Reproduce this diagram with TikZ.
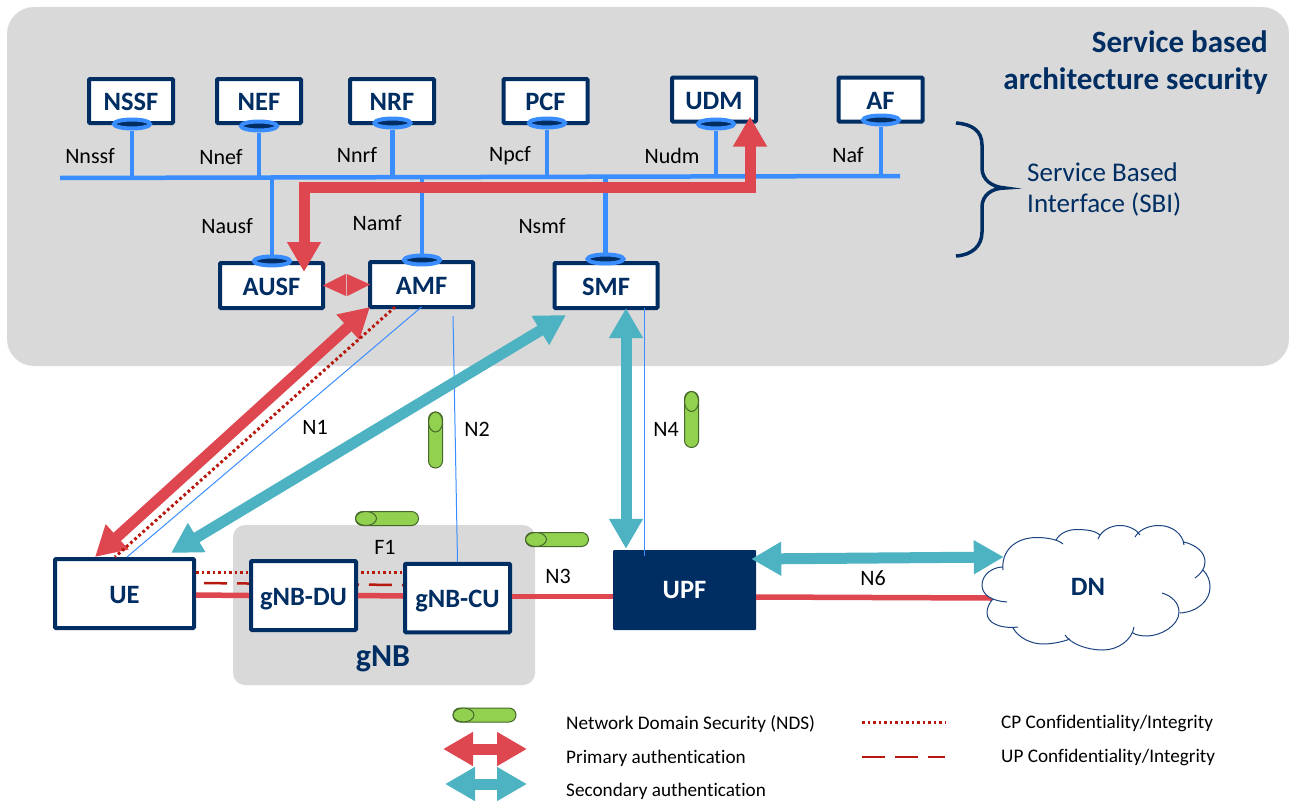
\documentclass[tikz,border=0pt]{standalone}
\usepackage{fontspec}
\setmainfont[Ligatures=NoCommon]{Carlito}
\usetikzlibrary{arrows.meta,shapes.geometric}
\definecolor{navyc}{HTML}{002D62}
\definecolor{grayc}{HTML}{D9D9D9}
\definecolor{bluec}{HTML}{3A8DFF}
\definecolor{redc}{HTML}{DE4650}
\definecolor{tealc}{HTML}{4DB3C2}
\definecolor{darkredc}{HTML}{B7190F}
\definecolor{greenc}{HTML}{92D050}
\definecolor{tubec}{HTML}{46682A}
\definecolor{cloudc}{HTML}{1B4480}
\begin{document}
\begin{tikzpicture}[x=1pt,y=-1pt,
  panel node/.style={rectangle,fill=grayc,inner sep=0pt},
  main node/.style={rectangle,draw=navyc,fill=white,line width=4pt,rounded corners=1pt,text=navyc,
    font=\bfseries\fontsize{26.5}{30}\selectfont,text height=19pt,text depth=0pt,inner sep=0pt},
  top node/.style={main node,minimum width=84pt,minimum height=44pt},
  core node/.style={main node,minimum width=103pt,minimum height=45pt},
  port node/.style={ellipse,draw=bluec,fill=navyc,line width=4pt,minimum width=36pt,minimum height=9pt,inner sep=0pt},
  label node/.style={inner sep=0pt,font=\fontsize{22}{26}\selectfont},
  legend node/.style={inner sep=0pt,anchor=west,yshift=-1pt,font=\fontsize{19.2}{23}\selectfont},
  tube node/.style={rectangle,draw=tubec,fill=greenc,line width=1pt,rounded corners=7pt,inner sep=0pt},
  tube v/.style={tube node,minimum width=14pt,minimum height=56pt},
  tube h/.style={tube node,minimum width=63pt,minimum height=14pt},
  cap v/.style={ellipse,draw=tubec,fill=greenc,line width=1pt,inner sep=0pt,minimum width=14pt,minimum height=20pt,anchor=north},
  cap h/.style={ellipse,draw=tubec,fill=greenc,line width=1pt,inner sep=0pt,minimum width=21pt,minimum height=14pt,anchor=west},
  sbi line/.style={draw=bluec,line width=4.5pt},
  thin line/.style={draw=bluec,line width=1pt},
  red line/.style={draw=redc,line width=5.5pt},
  cp line/.style={draw=darkredc,line width=3pt,dash pattern=on 2.8pt off 2.7pt},
  up line/.style={draw=darkredc,line width=2.5pt,dash pattern=on 23pt off 10pt,dash phase=25pt},
  red arrow/.style={draw=redc,line width=11pt,{Triangle[width=32pt,length=30pt]}-{Triangle[width=32pt,length=30pt]}},
  teal arrow/.style={draw=tealc,line width=11pt,{Triangle[width=32pt,length=30pt]}-{Triangle[width=32pt,length=30pt]}}]

  \useasboundingbox (0,0) rectangle (1289,800);

  \node[panel node,rounded corners=27pt,minimum width=1282pt,minimum height=359pt] (sba) at (648,186.5) {};
  \node[panel node,rounded corners=12pt,minimum width=302pt,minimum height=160pt] (gnb) at (384,605) {};

  \node[anchor=east,align=right,inner sep=0pt,text=navyc,font=\bfseries\fontsize{31}{37}\selectfont] (title) at (1268,63)
    {Service based\\architecture security};
  \node[anchor=west,align=left,inner sep=0pt,text=navyc,font=\fontsize{27}{31}\selectfont] (sbi) at (1027,189)
    {Service Based\\Interface (SBI)};

  \node[top node] (nssf) at (131,101) {NSSF};
  \node[top node] (nef) at (259,101) {NEF};
  \node[top node] (nrf) at (392,101) {NRF};
  \node[top node] (pcf) at (545.5,101) {PCF};
  \node[top node] (udm) at (714,99.5) {UDM};
  \node[top node] (af) at (880.5,99.5) {AF};
  \node[core node] (ausf) at (271.5,285.5) {AUSF};
  \node[core node] (amf) at (421.5,284.5) {AMF};
  \node[core node] (smf) at (606,285.5) {SMF};

  \node[port node] (nssf port) at (132,124) {};
  \node[port node] (nef port) at (259,126) {};
  \node[port node] (nrf port) at (392.5,123) {};
  \node[port node] (pcf port) at (547,123) {};
  \node[port node] (udm port) at (716,124) {};
  \node[port node] (af port) at (881,120) {};
  \node[port node] (ausf port) at (272,261) {};
  \node[port node] (amf port) at (422,260) {};
  \node[port node] (smf port) at (605.5,259) {};

  \coordinate (bus left) at (60,178);
  \coordinate (bus right) at (900,176);
  \coordinate (bus) at (0,177);
  \coordinate (auth) at (0,187);

  \path[every edge/.append style={sbi line}]
   (bus left) edge (bus right)
   (nssf port.south) edge (nssf port.south |- bus)
   (nef port.south) edge (nef port.south |- bus)
   (nrf port.south) edge (nrf port.south |- bus)
   (pcf port.south) edge (pcf port.south |- bus)
   (udm port.south) edge (udm port.south |- bus)
   (af port.south) edge (af port.south |- bus)
   (ausf port.north) edge (ausf port.north |- bus)
   (amf port.north) edge (amf port.north |- bus)
   (smf port.north) edge (smf port.north |- bus);

  \node[label node] (l nssf) at (90,156) {Nnssf};
  \node[label node] (l nef) at (221,157) {Nnef};
  \node[label node] (l nrf) at (357,155) {Nnrf};
  \node[label node] (l pcf) at (510,156) {Npcf};
  \node[label node] (l udm) at (672,156) {Nudm};
  \node[label node] (l af) at (848,155) {Naf};
  \node[label node] (l ausf) at (227,226) {Nausf};
  \node[label node] (l amf) at (377,223) {Namf};
  \node[label node] (l smf) at (542,226) {Nsmf};
  \node[label node] (n1) at (315,427) {N1};
  \node[label node] (n2) at (477,429) {N2};
  \node[label node] (n3) at (558,576) {N3};
  \node[label node] (n4) at (666,429) {N4};
  \node[label node] (n6) at (873,578) {N6};
  \node[label node] (f1) at (385,547) {F1};

  \node[main node,minimum width=139pt,minimum height=69pt] (ue) at (124.5,593.5) {UE};
  \node[main node,minimum width=105pt,minimum height=68.5pt] (cu) at (457.5,598) {gNB-CU};

  \path
   ([yshift=21.5pt]ue.east) edge[cp line] ([yshift=26pt]cu.west)
   ([yshift=10.5pt]ue.east) edge[up line] ([yshift=13pt]cu.west);

  \node[main node,minimum width=105pt,minimum height=69pt] (du) at (303.5,595.5) {gNB-DU};
  \node[rectangle,fill=navyc,rounded corners=1pt,text=white,inner sep=0pt,minimum width=143pt,minimum height=80pt,
    font=\bfseries\fontsize{26.5}{30}\selectfont,text height=17pt,text depth=0pt] (upf) at (684.5,590) {UPF};
  \node[text=navyc,inner sep=0pt,font=\bfseries\fontsize{32}{36}\selectfont] (gnb label) at (383,659) {gNB};

  \node[minimum width=212pt,minimum height=125pt,inner sep=0pt] (dn) at (1088,587) {};

  \path
   ([yshift=-1.5pt]ue.east) edge[red line] (du.west)
   (du.east) edge[red line] ([yshift=2pt]cu.west)
   ([yshift=1.5pt]cu.east) edge[red line] ([yshift=-6.5pt]upf.west)
   ([yshift=-7pt]upf.east) edge[red line] ([xshift=10pt,yshift=-11pt]dn.west);

  \fill[white] (1003,560) -- (1060,540) -- (1140,535) -- (1185,545) -- (1195,580) -- (1178,613)
    -- (1133,630) -- (1065,635) -- (1013,625) -- (995,600) -- cycle;
  \draw[draw=cloudc,fill=white,line width=1pt]
    (1003,570) .. controls (1001,552) and (1014,537.5) .. (1037,537.5) .. controls (1048,537.5) and (1059,540) .. (1063,544)
    (1056,540) .. controls (1060,533) and (1068,529.5) .. (1077,529.5) .. controls (1087,529.5) and (1096,531) .. (1100,535)
    (1098,539) .. controls (1101,531) and (1110,525.5) .. (1120,525.5) .. controls (1129,525.5) and (1137,530) .. (1140,535)
    (1135,537) .. controls (1139,530) and (1148,525.5) .. (1159,525.5) .. controls (1172,525.5) and (1183,534) .. (1184,545)
    (1184,542) .. controls (1196,545) and (1205,552) .. (1205,562) .. controls (1205,568) and (1201,574) .. (1195,578)
    (1203,570) .. controls (1208,575) and (1210,581) .. (1210,587) .. controls (1210,601) and (1197,612) .. (1180,613)
    (1162,593) .. controls (1172,596) and (1179,603) .. (1179,612) .. controls (1179,626) and (1160,636) .. (1147,636) .. controls (1141,636) and (1136,635) .. (1133,633)
    (1134,627) .. controls (1132,640) and (1118,650) .. (1103,650) .. controls (1087,650) and (1071,644) .. (1065,635)
    (1070,639) .. controls (1062,642) and (1052,644) .. (1043,644) .. controls (1030,644) and (1018,637) .. (1013,628)
    (1018,627) .. controls (1000,629) and (987,623) .. (987,613) .. controls (987,608) and (989,603) .. (993,599)
    (1007,602) .. controls (992,601) and (982,595) .. (982,585) .. controls (982,575) and (992,567) .. (1003,567);
  \node[text=navyc,inner sep=0pt,font=\bfseries\fontsize{26.5}{30}\selectfont,text height=17pt,text depth=0pt] (dn label) at (dn) {DN};

  \draw[navyc,line width=3.5pt] (956,123) .. controls (972,124) and (982,131) .. (982,145) -- (982,168)
    .. controls (982,180) and (992,187) .. (1005,188) .. controls (992,188) and (982,195) .. (982,207) -- (982,232)
    .. controls (982,246) and (972,255) .. (956,256);

  \coordinate (ausf in) at ([xshift=32.5pt,yshift=-11pt]ausf.north);
  \coordinate (udm in) at ([xshift=36pt,yshift=7pt]udm.south);
  \draw[red arrow] (ausf in) -- (ausf in |- auth) -- (udm in |- auth) -- (udm in);

  \path
   ([xshift=-2pt]ausf.east) edge[draw=redc,line width=.1pt,{Triangle[width=22pt,length=23pt]}-{Triangle[width=22pt,length=23pt]}] ([xshift=2pt]amf.west)
   ([xshift=2pt,yshift=2pt]amf.south west) edge[red arrow] ([xshift=-29.5pt]ue.north)
   ([xshift=-26.5pt,yshift=2pt]amf.south) edge[cp line] ([xshift=-9.5pt]ue.north)
   ([yshift=2pt]amf.south) edge[thin line] ([xshift=2.5pt]ue.north)
   ([xshift=31.5pt,yshift=-7pt]amf.south) edge[thin line] (cu.north)
   ([xshift=-40pt,yshift=-5pt]smf.south) edge[teal arrow] ([xshift=46.5pt,yshift=4pt]ue.north)
   ([xshift=20pt,yshift=2pt]smf.south) edge[teal arrow] ([xshift=-58.5pt,yshift=1pt]upf.north)
   ([xshift=38pt,yshift=2pt]smf.south) edge[thin line] ([xshift=-40.5pt,yshift=-6pt]upf.north)
   ([xshift=-5pt,yshift=31pt]upf.east) edge[teal arrow] ([xshift=22pt,yshift=30pt]dn.west);

  \node[tube v] (tube n2) at (435.5,440) {};
  \node[cap v] (cap n2) at (tube n2.north) {};
  \node[tube v] (tube n4) at (691.5,419.5) {};
  \node[cap v] (cap n4) at (tube n4.north) {};
  \node[tube h] (tube f1) at (387,518.5) {};
  \node[cap h] (cap f1) at (tube f1.west) {};
  \node[tube h] (tube n3) at (557,539.5) {};
  \node[cap h] (cap n3) at (tube n3.west) {};
  \node[tube h] (tube nds) at (484.5,715) {};
  \node[cap h] (cap nds) at (tube nds.west) {};

  \coordinate (prim left) at (443,749);
  \coordinate (prim right) at (527,749);
  \coordinate (sec left) at (445,784);
  \coordinate (sec right) at (527,784);
  \coordinate (cp left) at (862,722);
  \coordinate (cp right) at (945,722);
  \coordinate (up left) at (862,757);
  \coordinate (up right) at (945,757);

  \path
   (prim left) edge[red arrow] (prim right)
   (sec left) edge[teal arrow] (sec right)
   (cp left) edge[cp line] (cp right)
   (up left) edge[up line,dash phase=0pt] (up right);

  \node[legend node] (t nds) at (566,723) {Network Domain Security (NDS)};
  \node[legend node] (t prim) at (566,757) {Primary authentication};
  \node[legend node] (t sec) at (566,790) {Secondary authentication};
  \node[legend node] (t cp) at (1001,722) {CP Confidentiality/Integrity};
  \node[legend node] (t up) at (1001,756) {UP Confidentiality/Integrity};
\end{tikzpicture}
\end{document}
